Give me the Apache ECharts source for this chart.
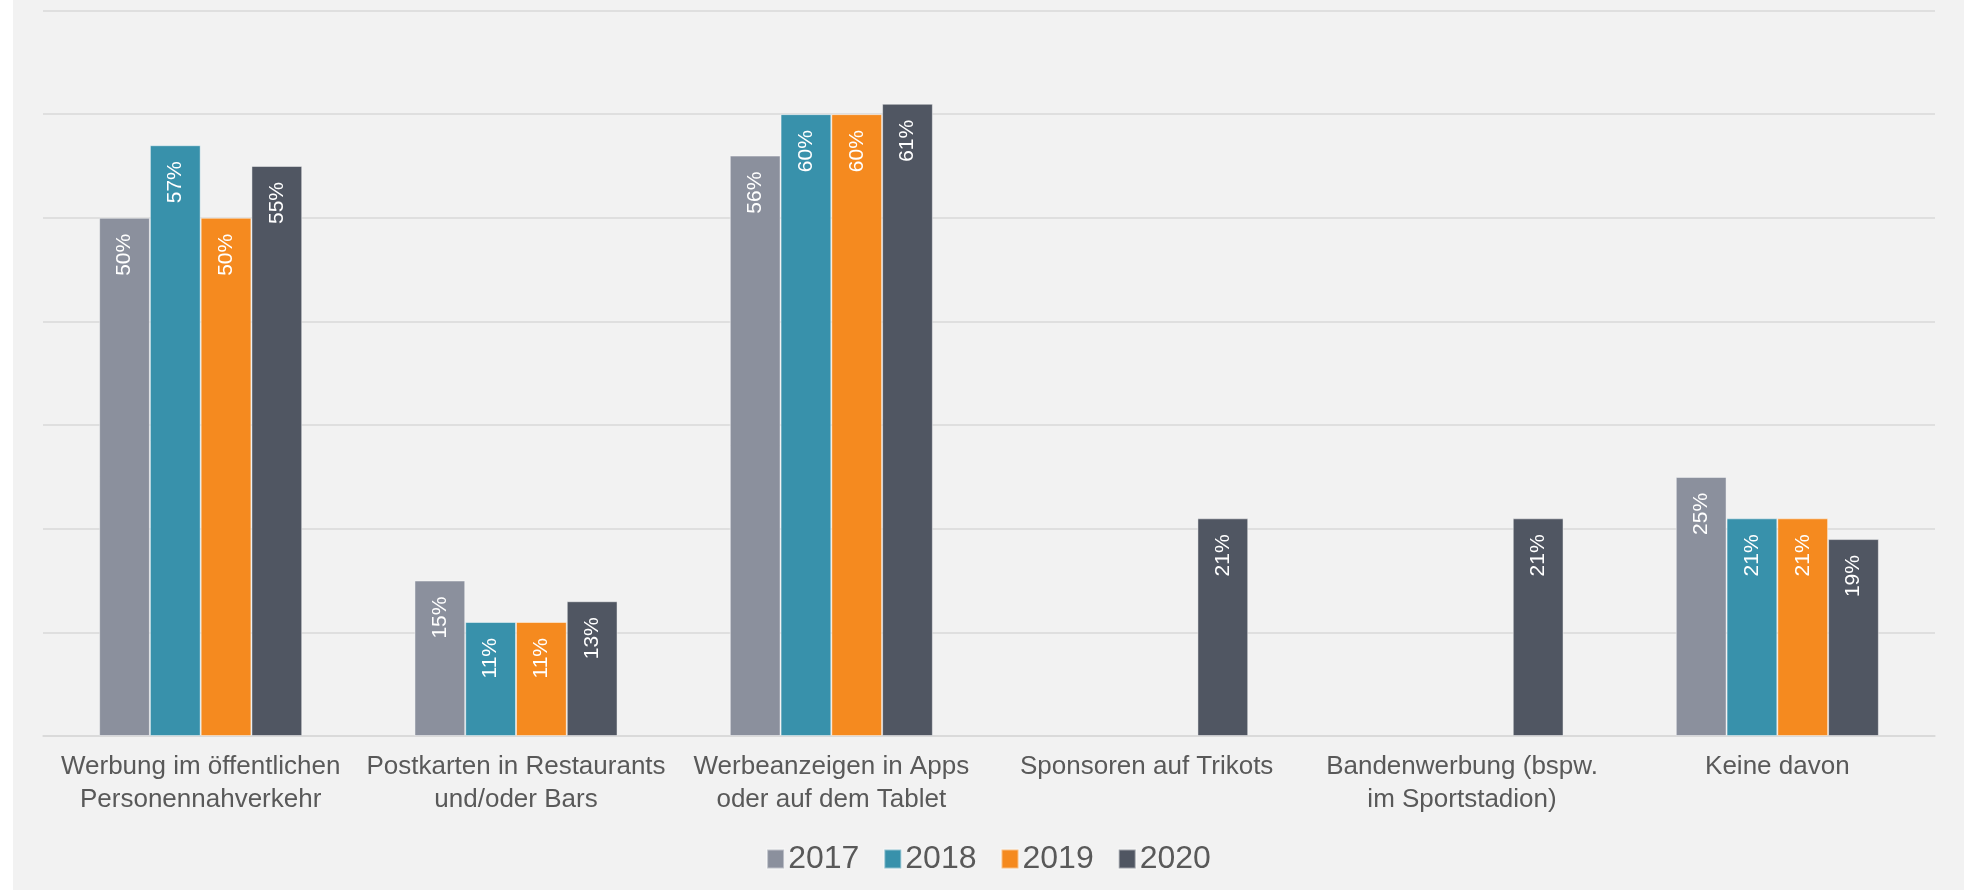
<!DOCTYPE html>
<html>
<head>
<meta charset="utf-8">
<script src="https://cdn.jsdelivr.net/npm/echarts@6/dist/echarts.min.js"></script>
<style>
  html, body { margin: 0; padding: 0; background: #ffffff; }
  #chart { position: absolute; left: 13px; top: 0; width: 1951px; height: 890px; background: #f2f2f2; }
</style>
</head>
<body>
<div id="chart"></div>
<script>
  // Kategorien (Zeilenumbruch wie im Original)
  const categories = [
    'Werbung im öffentlichen\nPersonennahverkehr',
    'Postkarten in Restaurants\nund/oder Bars',
    'Werbeanzeigen in Apps\noder auf dem Tablet',
    'Sponsoren auf Trikots',
    'Bandenwerbung (bspw.\nim Sportstadion)',
    'Keine davon'
  ];
  const years = ['2017', '2018', '2019', '2020'];
  const values2017 = [50, 15, 56, null, null, 25];
  const values2018 = [57, 11, 60, null, null, 21];
  const values2019 = [50, 11, 60, null, null, 21];
  const values2020 = [55, 13, 61, 21, 21, 19];
  const colors = ['#8b909d', '#3891ab', '#f58a1f', '#505662'];

  let chart = echarts.init(document.getElementById('chart'));
  let allValues = [values2017, values2018, values2019, values2020];

  let series = years.map(function (y, i) {
    return {
      name: y,
      type: 'bar',
      data: allValues[i],
      barGap: '0%',
      barCategoryGap: '35.6%',
      itemStyle: {
        color: colors[i],
        borderColor: 'rgba(255,255,255,0.45)',
        borderWidth: 1
      },
      label: {
        show: true,
        position: 'insideTop',
        rotate: 90,
        align: 'right',
        verticalAlign: 'middle',
        distance: 16,
        color: '#ffffff',
        fontSize: 21,
        fontFamily: '"Liberation Sans", Arial, sans-serif',
        formatter: function (p) { return p.value == null ? '' : p.value + '%'; }
      }
    };
  });

  let option = {
    animation: false,
    backgroundColor: '#f2f2f2',
    color: colors,
    grid: { left: 30, right: 29, top: 10.5, bottom: 154, containLabel: false },
    legend: {
      data: years,
      left: 'center',
      top: 838,
      itemWidth: 17,
      itemHeight: 19,
      itemGap: 24,
      icon: 'rect',
      textStyle: { color: '#595959', fontSize: 32, fontFamily: '"Liberation Sans", Arial, sans-serif', padding: [0, 0, 0, -1] }
    },
    xAxis: {
      type: 'category',
      data: categories,
      axisTick: { show: false },
      axisLine: { lineStyle: { color: '#d9d9d9', width: 1.5 } },
      axisLabel: {
        color: '#595959',
        fontSize: 26,
        lineHeight: 33,
        margin: 14,
        interval: 0,
        fontFamily: '"Liberation Sans", Arial, sans-serif'
      }
    },
    yAxis: {
      type: 'value',
      min: 0,
      max: 70,
      interval: 10,
      axisLabel: { show: false },
      axisLine: { show: false },
      axisTick: { show: false },
      splitLine: { lineStyle: { color: '#d9d9d9', width: 1.5 } }
    },
    series: series
  };
  chart.setOption(option);
</script>
</body>
</html>
